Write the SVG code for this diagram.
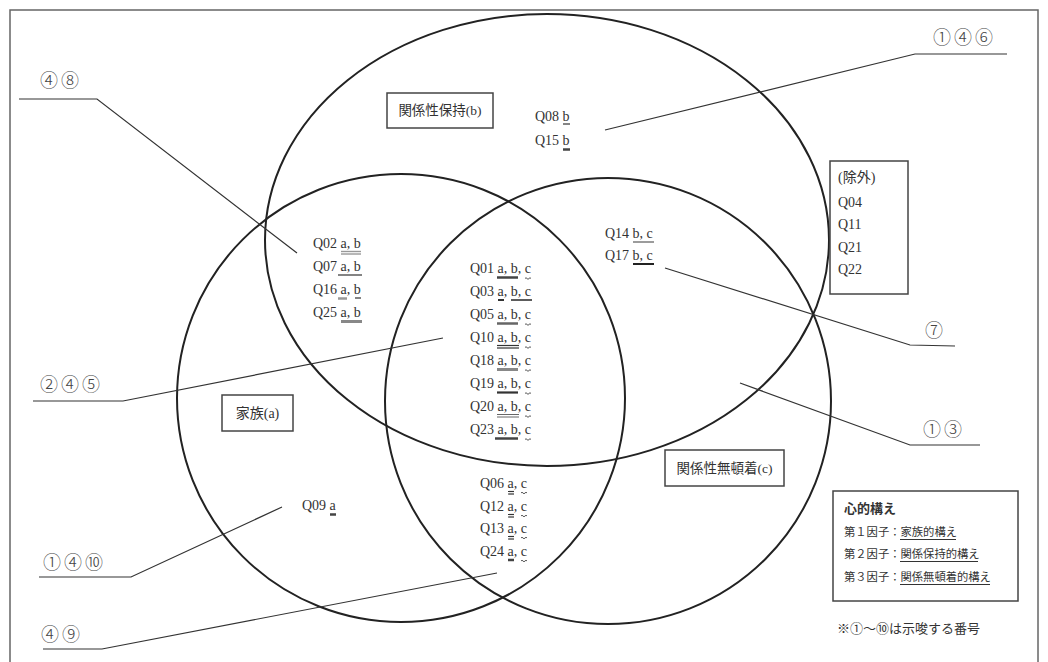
<svg xmlns="http://www.w3.org/2000/svg" width="1048" height="662" viewBox="0 0 1048 662">
<style>
.frame{fill:none;stroke:#666;stroke-width:1.5}
.circ{fill:none;stroke:#222;stroke-width:2}
.box{fill:#fff;stroke:#444;stroke-width:1.5}
.lead{fill:none;stroke:#333;stroke-width:1.2}
.q{font-family:"Liberation Serif","Noto Sans CJK JP",serif;font-size:14px;fill:#333}
.jp{font-family:"Liberation Serif","Noto Sans CJK JP",serif;fill:#333}
.num{font-family:"Noto Sans CJK JP",sans-serif;font-size:18px;font-weight:300;fill:#444;letter-spacing:3px}
.ul{fill:none;stroke:#333;stroke-width:1.2}
.thick{fill:none;stroke:#444;stroke-width:2.5}
.gray{fill:none;stroke:#888;stroke-width:3}
.thin2{fill:none;stroke:#555;stroke-width:0.9}
.wave{fill:none;stroke:#444;stroke-width:0.9}
</style>
<rect width="1048" height="662" fill="#fff"/>
<rect class="frame" x="10" y="10" width="1028" height="662"/>

<g id="venn">
<ellipse id="circle-b" class="circ" cx="547" cy="240" rx="282" ry="226"/>
<circle id="circle-a" class="circ" cx="401" cy="398" r="224"/>
<circle id="circle-c" class="circ" cx="608" cy="401" r="223"/>
</g>

<g id="connectors">
<polyline class="lead" points="19,99 97,99 297,253"/>
<polyline class="lead" points="605,130 915,54 1007,54"/>
<polyline class="lead" points="665,268 910,345 955,346"/>
<polyline class="lead" points="740,383 910,445 980,445"/>
<polyline class="lead" points="33,401 123,401 443,338"/>
<polyline class="lead" points="39,577 131,577 282,507"/>
<polyline class="lead" points="43,649 102,649 497,573"/>
</g>

<g id="labels-numbers">
<text class="num" x="40" y="87">④⑧</text>
<text class="num" x="933" y="44">①④⑥</text>
<text class="num" x="925" y="337">⑦</text>
<text class="num" x="923" y="436">①③</text>
<text class="num" x="40" y="391">②④⑤</text>
<text class="num" x="43" y="569">①④⑩</text>
<text class="num" x="41" y="641">④⑨</text>
</g>

<g id="node-b">
<rect class="box" x="387" y="93" width="106" height="35"/>
<text class="jp" x="440" y="115" font-size="13.5" text-anchor="middle">関係性保持(b)</text>
</g>

<g id="node-a">
<rect class="box" x="222" y="395" width="71" height="36"/>
<text class="jp" x="257.5" y="418" font-size="14" text-anchor="middle">家族(a)</text>
</g>

<g id="node-c">
<rect class="box" x="665" y="450" width="119" height="36"/>
<text class="jp" x="724.5" y="473" font-size="13.5" text-anchor="middle">関係性無頓着(c)</text>
</g>

<g id="set-b-only">
<text class="q" x="535" y="121">Q08 b</text>
<text class="q" x="535" y="145">Q15 b</text>
<line class="ul" x1="563" y1="124" x2="570" y2="124"/>
<line class="thick" x1="563" y1="149.5" x2="570" y2="149.5"/>
</g>

<g id="set-ab">
<text class="q" x="313" y="248">Q02 a, b</text>
<text class="q" x="313" y="271">Q07 a, b</text>
<text class="q" x="313" y="294">Q16 a, b</text>
<text class="q" x="313" y="317">Q25 a, b</text>
<line x1="341" y1="251.5" x2="361" y2="251.5" stroke="#999" stroke-width="1.4"/>
<line x1="341" y1="254" x2="361" y2="254" stroke="#999" stroke-width="1.4"/>
<line class="ul" x1="338" y1="275" x2="362" y2="275"/>
<line x1="338" y1="298.5" x2="347" y2="298.5" stroke="#999" stroke-width="2.5"/>
<line class="ul" x1="355" y1="298" x2="361" y2="298"/>
<line class="gray" x1="341" y1="321.5" x2="362" y2="321.5"/>
</g>

<g id="set-abc">
<text class="q" x="470" y="273">Q01 a, b, c</text>
<text class="q" x="470" y="296">Q03 a, b, c</text>
<text class="q" x="470" y="319">Q05 a, b, c</text>
<text class="q" x="470" y="342">Q10 a, b, c</text>
<text class="q" x="470" y="365">Q18 a, b, c</text>
<text class="q" x="470" y="388">Q19 a, b, c</text>
<text class="q" x="470" y="411">Q20 a, b, c</text>
<text class="q" x="470" y="434">Q23 a, b, c</text>
<line class="thick" x1="497" y1="277.5" x2="518" y2="277.5"/>
<path class="wave" d="M525,278.5 q1,-1.6 2,0 t2,0 t2,0"/>
<line x1="498" y1="300" x2="504" y2="300" stroke="#333" stroke-width="2"/>
<line x1="511" y1="300" x2="532" y2="300" stroke="#333" stroke-width="1.6"/>
<line x1="497" y1="323.5" x2="518" y2="323.5" stroke="#666" stroke-width="2.5"/>
<path class="wave" d="M525,324.5 q1,-1.6 2,0 t2,0 t2,0"/>
<line class="ul" x1="497" y1="345.5" x2="519" y2="345.5"/>
<line class="ul" x1="497" y1="348" x2="519" y2="348"/>
<path class="wave" d="M525,347.5 q1,-1.6 2,0 t2,0 t2,0"/>
<line class="gray" x1="497" y1="369.5" x2="518" y2="369.5"/>
<path class="wave" d="M525,370.5 q1,-1.6 2,0 t2,0 t2,0"/>
<line x1="497" y1="392.5" x2="518" y2="392.5" stroke="#333" stroke-width="2.2"/>
<path class="wave" d="M525,393.5 q1,-1.6 2,0 t2,0 t2,0"/>
<line class="thin2" x1="497" y1="414.5" x2="519" y2="414.5"/>
<line class="thin2" x1="497" y1="417" x2="519" y2="417"/>
<path class="wave" d="M525,416.5 q1,-1.6 2,0 t2,0 t2,0"/>
<line class="thick" x1="495" y1="438.5" x2="518" y2="438.5"/>
<path class="wave" d="M525,439.5 q1,-1.6 2,0 t2,0 t2,0"/>
</g>

<g id="set-bc">
<text class="q" x="605" y="238">Q14 b, c</text>
<text class="q" x="605" y="260">Q17 b, c</text>
<line x1="633" y1="242" x2="654" y2="242" stroke="#666" stroke-width="1.3"/>
<line x1="633" y1="264" x2="654" y2="264" stroke="#222" stroke-width="2"/>
</g>

<g id="set-ac">
<text class="q" x="480" y="488">Q06 a, c</text>
<text class="q" x="480" y="511">Q12 a, c</text>
<text class="q" x="480" y="533">Q13 a, c</text>
<text class="q" x="480" y="556">Q24 a, c</text>
<line class="ul" x1="508" y1="491.5" x2="514" y2="491.5"/>
<line class="ul" x1="508" y1="494" x2="514" y2="494"/>
<path class="wave" d="M521,493 q1,-1.6 2,0 t2,0 t2,0"/>
<line class="ul" x1="508" y1="514.5" x2="514" y2="514.5"/>
<line class="ul" x1="508" y1="517" x2="514" y2="517"/>
<path class="wave" d="M521,516 q1,-1.6 2,0 t2,0 t2,0"/>
<line class="ul" x1="508" y1="536.5" x2="514" y2="536.5"/>
<line class="ul" x1="508" y1="539" x2="514" y2="539"/>
<path class="wave" d="M521,538 q1,-1.6 2,0 t2,0 t2,0"/>
<line class="thick" x1="508" y1="560" x2="514" y2="560"/>
<path class="wave" d="M521,561 q1,-1.6 2,0 t2,0 t2,0"/>
</g>

<g id="set-a-only">
<text class="q" x="302" y="510">Q09 a</text>
<line class="thick" x1="330" y1="514.5" x2="336" y2="514.5"/>
</g>

<g id="excluded">
<rect class="box" x="830" y="161" width="78" height="133"/>
<text class="jp" x="838" y="182" font-size="14">(除外)</text>
<text class="q" x="838" y="207">Q04</text>
<text class="q" x="838" y="229">Q11</text>
<text class="q" x="838" y="252">Q21</text>
<text class="q" x="838" y="274">Q22</text>
</g>

<g id="legend">
<rect class="box" x="833" y="491" width="185" height="110"/>
<text class="jp" x="844" y="513" font-size="13" font-weight="bold">心的構え</text>
<text class="jp" x="844" y="536" font-size="11.3">第１因子：家族的構え</text>
<text class="jp" x="844" y="558" font-size="11.3">第２因子：関係保持的構え</text>
<text class="jp" x="844" y="581" font-size="11.3">第３因子：関係無頓着的構え</text>
<line class="ul" x1="900" y1="539.5" x2="956" y2="539.5"/>
<line class="ul" x1="900" y1="561.5" x2="978" y2="561.5"/>
<line class="ul" x1="900" y1="584.5" x2="990" y2="584.5"/>
</g>

<g id="note">
<text class="jp" x="837" y="633" font-size="13">※①～⑩は示唆する番号</text>
</g>
</svg>
